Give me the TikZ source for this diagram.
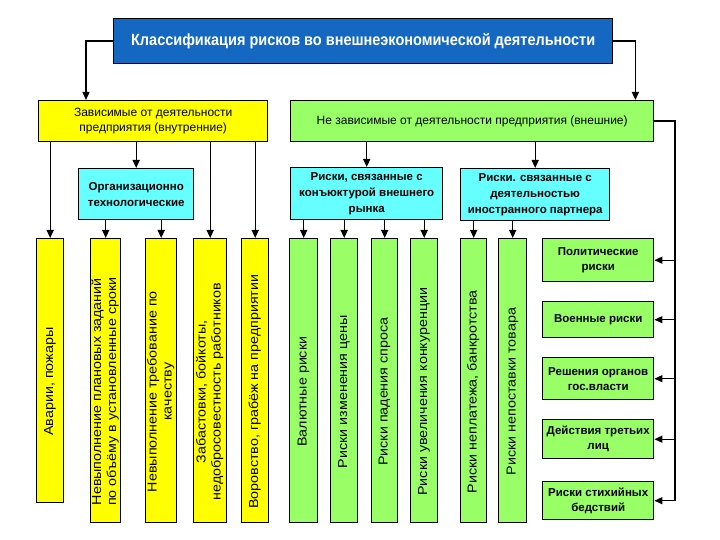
\documentclass[tikz,border=0pt]{standalone}
\usepackage{fontspec}
\setmainfont{Liberation Sans}
\usetikzlibrary{arrows.meta}

\definecolor{titleblue}{RGB}{20,104,194}
\definecolor{riskyellow}{RGB}{255,255,0}
\definecolor{riskgreen}{RGB}{153,255,102}
\definecolor{riskcyan}{RGB}{102,255,255}

\newcommand{\vlabel}[1]{\rotatebox{90}{\scalebox{1.1}[1]{\begin{tabular}{@{}c@{}}#1\end{tabular}}\hspace{22pt}}}

\begin{document}
\begin{tikzpicture}[x=1pt,y=-1pt,
  riskbox/.style={draw=black, line width=1.4pt, anchor=north west, inner sep=0pt, align=center},
  headbox/.style={riskbox, font=\fontsize{12}{15}\selectfont},
  subbox/.style={riskbox, fill=riskcyan, font=\bfseries\fontsize{11.5}{16}\selectfont},
  tallbox/.style={riskbox, minimum height=284pt, font=\fontsize{13}{15}\selectfont},
  sidebox/.style={riskbox, fill=riskgreen, minimum width=111pt, font=\bfseries\fontsize{11.5}{15}\selectfont},
  arrowline/.style={line width=1.4pt, -{Triangle[length=8pt,width=7pt]}}]
\useasboundingbox (0,0) rectangle (720,540);
\node[riskbox, fill=titleblue, text=white, minimum width=499pt, minimum height=45pt, font=\bfseries\fontsize{14.5}{16}\selectfont] (title) at (113,18) {\scalebox{1}[1.12]{Классификация рисков во внешнеэкономической деятельности}};
\node[headbox, fill=riskyellow, minimum width=229pt, minimum height=41pt] (dep) at (38,100) {Зависимые от деятельности\\предприятия (внутренние)};
\node[headbox, fill=riskgreen, minimum width=363pt, minimum height=41pt] (indep) at (290,100) {Не зависимые от деятельности предприятия (внешние)};
\node[subbox, minimum width=115pt, minimum height=51pt] (org) at (78,168) {Организационно\\технологические};
\node[subbox, minimum width=152pt, minimum height=52pt] (mkt) at (290,167) {Риски, связанные с\\конъюктурой внешнего\\рынка};
\node[subbox, minimum width=149pt, minimum height=52pt] (prt) at (460,168) {Риски. связанные с\\деятельностью\\иностранного партнера};
\node[tallbox, fill=riskyellow, minimum width=27pt, minimum height=264pt] (y1) at (36,238) {\vlabel{Аварии, пожары}};
\node[tallbox, fill=riskyellow, minimum width=30pt] (y2) at (90,238) {\vlabel{Невыполнение плановых заданий\\по объёму в установленные сроки}};
\node[tallbox, fill=riskyellow, minimum width=31pt] (y3) at (145,238) {\vlabel{Невыполнение требование по\\качеству}};
\node[tallbox, fill=riskyellow, minimum width=33pt] (y4) at (193,238) {\vlabel{Забастовки, бойкоты,\\недобросовестность работников}};
\node[tallbox, fill=riskyellow, minimum width=27pt] (y5) at (241,238) {\vlabel{Воровство, грабёж на предприятии}};
\node[tallbox, fill=riskgreen, minimum width=28pt] (g1) at (289,238) {\vlabel{Валютные риски}};
\node[tallbox, fill=riskgreen, minimum width=27pt] (g2) at (330,238) {\vlabel{Риски изменения цены}};
\node[tallbox, fill=riskgreen, minimum width=26pt] (g3) at (371,238) {\vlabel{Риски падения спроса}};
\node[tallbox, fill=riskgreen, minimum width=27pt] (g4) at (410,238) {\vlabel{Риски увеличения конкуренции}};
\node[tallbox, fill=riskgreen, minimum width=26pt] (g5) at (460,238) {\vlabel{Риски неплатежа, банкротства}};
\node[tallbox, fill=riskgreen, minimum width=28pt] (g6) at (498,238) {\vlabel{Риски непоставки товара}};
\node[sidebox, minimum height=43pt] (p1) at (542,238) {Политические\\риски};
\node[sidebox, minimum height=36pt] (p2) at (542,301) {Военные риски};
\node[sidebox, minimum height=42pt] (p3) at (542,357) {Решения органов\\гос.власти};
\node[sidebox, minimum height=39pt] (p4) at (542,419) {Действия третьих\\лиц};
\node[sidebox, minimum height=38pt] (p5) at (542,481) {Риски стихийных\\бедствий};
\draw[arrowline] (title.west) -| ([xshift=48pt]dep.north west);
\draw[arrowline] (title.east) -| ([xshift=-19pt]indep.north east);
\foreach \n in {y1,org,y4,y5} \draw[arrowline] (dep.south -| \n) -- (\n.north);
\foreach \n in {y2,y3} \draw[arrowline] (org.south -| \n) -- (\n.north);
\foreach \n in {mkt,prt} \draw[arrowline] (indep.south -| \n) -- (\n.north);
\foreach \n in {g1,g2,g3,g4} \draw[arrowline] (mkt.south -| \n) -- (\n.north);
\foreach \n in {g5,g6} \draw[arrowline] (prt.south -| \n) -- (\n.north);
\coordinate (bus) at (675,121);
\draw[line width=1.4pt] (indep.east) -- (indep.east -| bus) -- (p5.east -| bus);
\foreach \n in {p1,p2,p3,p4,p5} \draw[arrowline] (\n.east -| bus) -- (\n.east);
\end{tikzpicture}
\end{document}
